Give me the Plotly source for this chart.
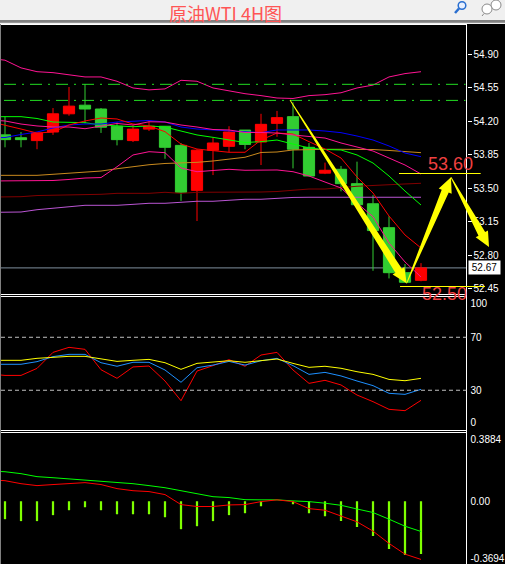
import math
import plotly.graph_objects as go

W, H = 505, 564
# ---------- candles (27 four-hour bars; red closes up, green closes down) ----------
BARS = list(range(27))
OPEN = [54.06,54.03,54.00,54.09,54.28,54.37,54.33,54.15,54.00,54.12,54.15,53.95,53.48,53.90,53.94,54.11,53.985,54.18,54.25,53.93,53.66,53.70,53.55,53.34,53.09,52.62,52.54]
CLOSE = [54.01,54.01,54.08,54.28,54.36,54.33,54.14,54.01,54.12,54.15,53.93,53.46,53.90,53.975,54.09,53.96,54.17,54.24,53.91,53.63,53.69,53.55,53.33,53.06,52.62,52.52,52.67]
HIGH = [54.25,54.09,54.08,54.34,54.56,54.59,54.34,54.19,54.16,54.20,54.15,53.975,53.91,54.03,54.15,54.11,54.28,54.31,54.40,53.975,53.77,53.735,53.78,53.43,53.21,52.71,52.72]
LOW = [53.93,53.93,53.91,54.06,54.26,54.18,54.08,53.95,53.985,54.10,53.81,53.37,53.16,53.64,53.88,53.91,53.745,54.04,53.71,53.63,53.65,53.47,53.33,52.64,52.56,52.52,52.53]

# ---------- price overlays: first value belongs to the bar before the window ----------
LINE_BARS = list(range(-1, 27))
BAND_UP = [54.86,54.84,54.76,54.72,54.71,54.685,54.665,54.665,54.62,54.55,54.53,54.54,54.63,54.62,54.55,54.52,54.49,54.47,54.445,54.44,54.47,54.48,54.50,54.55,54.58,54.665,54.70,54.72]
BAND_MID = [54.215,54.205,54.173,54.153,54.142,54.142,54.124,54.153,54.179,54.163,54.197,54.194,54.163,54.142,54.116,54.111,54.085,54.085,54.079,54.059,54.041,54.027,53.975,53.933,53.891,53.818,53.745,53.651]
BAND_LOW = [53.578,53.578,53.578,53.583,53.583,53.594,53.609,53.614,53.727,53.850,53.884,53.874,53.714,53.675,53.686,53.700,53.690,53.693,53.693,53.675,53.630,53.567,53.505,53.348,53.205,52.930,52.732,52.575]
MA_RED = [54.20,54.163,54.121,54.079,54.090,54.163,54.205,54.236,54.226,54.173,54.153,54.093,53.964,53.912,53.894,53.878,53.878,54.006,54.079,54.069,53.989,53.912,53.818,53.620,53.453,53.212,53.014,52.878]
MA_BLUE = [54.03,54.032,54.064,54.090,54.132,54.163,54.173,54.173,54.194,54.205,54.210,54.194,54.142,54.121,54.111,54.100,54.090,54.083,54.111,54.114,54.111,54.100,54.083,54.048,54.006,53.944,53.870,53.832]
MA_GREEN = [54.25,54.252,54.250,54.231,54.194,54.191,54.187,54.163,54.153,54.145,54.153,54.142,54.100,54.059,54.034,54.006,53.980,53.989,54.006,53.964,53.923,53.907,53.902,53.850,53.766,53.630,53.473,53.327]
MA_ORANGE = [53.637,53.637,53.637,53.637,53.648,53.658,53.669,53.682,53.706,53.727,53.748,53.761,53.763,53.773,53.787,53.805,53.826,53.876,53.881,53.902,53.907,53.909,53.909,53.909,53.907,53.897,53.886,53.874]
MA_DARK = [53.41,53.414,53.414,53.426,53.428,53.428,53.437,53.439,53.449,53.449,53.449,53.460,53.449,53.460,53.460,53.460,53.460,53.463,53.468,53.479,53.494,53.494,53.510,53.523,53.531,53.536,53.547,53.554]
MA_PURPLE = [53.25,53.251,53.254,53.278,53.291,53.311,53.324,53.324,53.324,53.334,53.345,53.345,53.355,53.366,53.366,53.376,53.387,53.387,53.397,53.406,53.408,53.408,53.408,53.408,53.408,53.408,53.408,53.408]
LEVELS = [54.588, 54.42]
LAST_PRICE = 52.67
PRICE_TICKS = [54.90,54.55,54.20,53.85,53.50,53.15,52.80,52.45]

# ---------- RSI ----------
RSI_RED = [42.3,41.2,41.2,46.5,58.6,62.4,60.9,45.5,39,47.6,48.3,37,22.1,44.5,48.6,53.1,48.1,56.6,58.6,45.3,35.2,37.5,34,26.4,21.4,15.6,14.6,22.4]
RSI_BLUE = [49.6,49.6,49.6,51.6,55.4,57.1,57.1,50.8,48.1,51.1,51.1,45.3,36,47,49,51.8,49,52.3,54.1,48.6,42,43.5,40.8,37,33.5,27.7,26.9,30.7]
RSI_YELLOW = [52.6,52.6,52.6,54.1,55.1,55.6,55.6,53.6,51.8,52.6,53.3,50.8,45.8,50.3,51.1,52.3,51.1,52.3,53.6,50.3,47.3,48.1,46.6,44,42,38.2,37.2,39]

# ---------- MACD ----------
MACD_BARS = [-.102,-.113,-.113,-.079,-.051,-.034,-.051,-.074,-.074,-.074,-.091,-.159,-.142,-.113,-.079,-.068,-.028,0,-.017,-.068,-.085,-.113,-.147,-.198,-.272,-.306,-.300]
MACD_SIGNAL = [.172,.168,.157,.140,.134,.127,.123,.115,.106,.100,.089,.077,.060,.045,.026,.021,.009,.008,.008,.002,-.002,-.011,-.023,-.044,-.064,-.102,-.142,-.172]
MACD_MAIN = [.122,.117,.100,.089,.095,.100,.106,.095,.072,.060,.055,.038,-.019,-.030,-.030,-.021,-.019,-.002,.008,-.002,-.042,-.051,-.085,-.117,-.170,-.240,-.301,-.331]

# ---------- drawn forecast (bar index, price) ----------
ARROWS = [((17.81,54.424),(25.1,52.509)), ((25.1,52.509),(27.875,53.617)), ((27.875,53.617),(30.25,52.888))]
FORECAST_LEVELS = [(24.625,29.73,53.66),(24.69,30.0,52.48)]
TITLE = "原油WTI 4H图"

# ---------- frame (pixel geometry) ----------
PX_L, PX_R = 1.0, 466.5
P1, P2, P3 = (24.5,294.0), (297.0,430.0), (433.0,564.0)
XR = [(PX_L-5)/16, (PX_R-5)/16]
Y1R = [55.469-0.010448*P1[1], 55.469-0.010448*P1[0]]
def dom(p): return [1-p[1]/H, 1-p[0]/H]
def fx(px): return px/W
def fy(py): return 1-py/H
def bar_px(i): return 5+16*i
def price_py(v): return (55.469-v)/0.010448

fig = go.Figure()
fig.add_trace(go.Candlestick(x=BARS, open=OPEN, high=HIGH, low=LOW, close=CLOSE,
    increasing=dict(line=dict(color="#ff0000",width=1),fillcolor="#ff0000"),
    decreasing=dict(line=dict(color="#32cd32",width=1),fillcolor="#32cd32"),
    whiskerwidth=0, hoverinfo="skip", xaxis="x", yaxis="y"))
for vals,color in [(MA_PURPLE,"#ba55d3"),(MA_DARK,"#800000"),(MA_ORANGE,"#c98a1e"),(MA_GREEN,"#00ff00"),
                   (MA_BLUE,"#0000ff"),(MA_RED,"#ff0000"),(BAND_UP,"#ff1493"),(BAND_MID,"#ff1493"),(BAND_LOW,"#ff1493")]:
    fig.add_trace(go.Scatter(x=LINE_BARS,y=vals,mode="lines",line=dict(color=color,width=1),hoverinfo="skip",xaxis="x",yaxis="y"))
for vals,color in [(RSI_RED,"#ff0000"),(RSI_BLUE,"#1e90ff"),(RSI_YELLOW,"#ffff00")]:
    fig.add_trace(go.Scatter(x=LINE_BARS,y=vals,mode="lines",line=dict(color=color,width=1),hoverinfo="skip",xaxis="x",yaxis="y2"))
fig.add_trace(go.Bar(x=BARS,y=MACD_BARS,width=0.14,marker=dict(color="#7fff00",line=dict(width=0)),hoverinfo="skip",xaxis="x",yaxis="y3"))
for vals,color in [(MACD_SIGNAL,"#00ff00"),(MACD_MAIN,"#ff0000")]:
    fig.add_trace(go.Scatter(x=LINE_BARS,y=vals,mode="lines",line=dict(color=color,width=1),hoverinfo="skip",xaxis="x",yaxis="y3"))

shapes = []
def rect(x0,y0,x1,y1,fill):
    shapes.append(dict(type="rect",xref="paper",yref="paper",x0=fx(x0),x1=fx(x1),y0=fy(y1),y1=fy(y0),fillcolor=fill,line=dict(width=0),layer="above"))
def wline(x0,y0,x1,y1,color="#ffffff",width=1,dash="solid",layer="above"):
    shapes.append(dict(type="line",xref="paper",yref="paper",x0=fx(x0),x1=fx(x1),y0=fy(y0),y1=fy(y1),line=dict(color=color,width=width,dash=dash),layer=layer))

# window chrome
rect(0,0,W,20,"#f0f0f0")
rect(0,20,W,22.5,"#808080")
rect(0,22.5,W,24,"#f0f0f0")
rect(0,24,1,H,"#808080")
for py in (24.5,294.5,296.5,430.5,432.5):
    wline(1,py,PX_R,py)
wline(PX_R,24,PX_R,H)

# last price and levels
for lvl in LEVELS:
    shapes.append(dict(type="line",xref="paper",yref="y",x0=fx(4),x1=fx(PX_R-1),y0=lvl,y1=lvl,
                       line=dict(color="#22dd22",width=1,dash="12px,6px,2px,6px"),layer="above"))
shapes.append(dict(type="line",xref="paper",yref="y",x0=fx(PX_L),x1=fx(PX_R),y0=LAST_PRICE,y1=LAST_PRICE,
                   line=dict(color="#7f8f9f",width=1),layer="below"))
for lvl in (70,30):
    shapes.append(dict(type="line",xref="paper",yref="y2",x0=fx(PX_L),x1=fx(PX_R),y0=lvl,y1=lvl,
                       line=dict(color="#c0c0c0",width=1,dash="4px,3px"),layer="above"))
# forecast levels, snapped to the pixel grid so they stay one crisp pixel
for a,b,v in FORECAST_LEVELS:
    py = math.floor(price_py(v))+0.5
    wline(bar_px(a),py,bar_px(b),py,"#ffff00",1)

# tapered arrows
def arrow(p0,p1,neck=3.8,head=7.0,hlen=15.0):
    x0,y0 = bar_px(p0[0]),price_py(p0[1])
    x1,y1 = bar_px(p1[0]),price_py(p1[1])
    dx,dy = x1-x0,y1-y0
    L = (dx*dx+dy*dy)**.5
    ux,uy = dx/L,dy/L
    nx,ny = -uy,ux
    bx,by = x1-ux*hlen,y1-uy*hlen
    pts = [(x0+nx*.4,y0+ny*.4),(bx+nx*neck,by+ny*neck),(bx+nx*head,by+ny*head),(x1,y1),
           (bx-nx*head,by-ny*head),(bx-nx*neck,by-ny*neck),(x0-nx*.4,y0-ny*.4)]
    path = "M"+" L".join(f"{fx(a):.5f},{fy(b):.5f}" for a,b in pts)+" Z"
    shapes.append(dict(type="path",xref="paper",yref="paper",path=path,fillcolor="#ffff00",line=dict(width=0),layer="above"))
for a,b in ARROWS:
    arrow(a,b)

# toolbar icons
def circle(cx,cy,r,fill,line,w=1.5):
    shapes.append(dict(type="circle",xref="paper",yref="paper",x0=fx(cx-r),x1=fx(cx+r),y0=fy(cy+r),y1=fy(cy-r),
                       fillcolor=fill,line=dict(color=line,width=w)))
circle(462,5.5,3.8,"#e8f0ff","#2a6fd0")
wline(459,8.5,455,13,"#2a6fd0",2.5)
circle(496,5,5,"#ffffff","#8a8a8a",1)
circle(487,9,5,"#ffffff","#8a8a8a",1)
wline(484,13.5,482,16,"#8a8a8a",1)

ann = [
    dict(text=TITLE,xref="paper",yref="paper",x=fx(225),y=fy(12.5),xanchor="center",yanchor="middle",showarrow=False,
         font=dict(family="Noto Sans CJK SC",size=18,color="#ff5555")),
    dict(text="53.60",xref="paper",yref="paper",x=fx(450),y=fy(164),xanchor="center",yanchor="middle",showarrow=False,
         font=dict(family="Liberation Sans",size=18,color="#f04040")),
    dict(text="52.50",xref="paper",yref="paper",x=fx(444.5),y=fy(294),xanchor="center",yanchor="middle",showarrow=False,
         font=dict(family="Liberation Sans",size=18,color="#f04040")),
    dict(text=f"{LAST_PRICE:.2f}",xref="paper",yref="y",x=fx(468),y=LAST_PRICE,xanchor="left",yanchor="middle",showarrow=False,
         bgcolor="#ffffff",borderpad=1,width=29,align="center",font=dict(family="Liberation Sans",size=10,color="#000000")),
]

axis_common = dict(side="right",anchor="x",showgrid=False,zeroline=False,showline=False,color="#ffffff",
                   tickfont=dict(family="Liberation Sans",size=10,color="#ffffff"))
fig.update_layout(
    width=W,height=H,margin=dict(l=0,r=0,t=0,b=0),paper_bgcolor="#000000",plot_bgcolor="#000000",
    showlegend=False,barmode="overlay",boxgap=0.3,boxgroupgap=0,shapes=shapes,annotations=ann,hovermode=False,
    xaxis=dict(domain=[fx(PX_L),fx(PX_R)],range=XR,visible=False,rangeslider=dict(visible=False)),
    yaxis=dict(domain=dom(P1),range=Y1R,tickvals=PRICE_TICKS,ticktext=[f"{v:.2f}" for v in PRICE_TICKS],
               ticks="outside",ticklen=4,tickcolor="#ffffff",**axis_common),
    # the scale's end labels sit inside the pane, as in the original terminal
    yaxis2=dict(domain=dom(P2),range=[0,100.4],tickvals=[95.8,70,30,5.3],ticktext=["100","70","30","0"],
                ticks="",ticklabelstandoff=3,**axis_common),
    yaxis3=dict(domain=dom(P3),range=[-0.357,0.3884],tickvals=[0.3515,0,-0.323],ticktext=["0.3884","0.00","-0.3694"],
                ticks="",ticklabelstandoff=3,**axis_common),
)
fig.write_html("out.html",config=dict(displayModeBar=False),
               post_script="document.body.style.margin='0';document.body.style.overflow='hidden';document.body.style.background='#000';")
